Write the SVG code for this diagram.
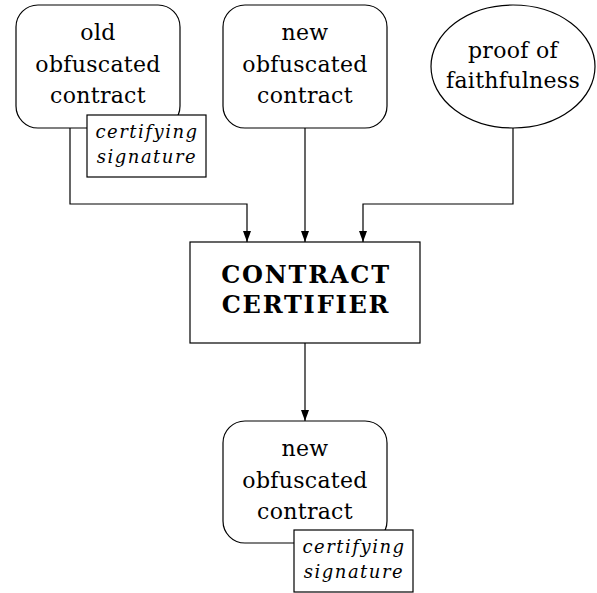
<svg xmlns="http://www.w3.org/2000/svg" width="597" height="593" viewBox="0 0 597 593">
<style>
.s{fill:#fff;stroke:#000;stroke-width:1.2}
.c{fill:none;stroke:#000;stroke-width:1.2}
text{font-family:'DejaVu Serif','Liberation Serif',serif;text-anchor:middle}
.t{font-size:22px;letter-spacing:0.3px}
.i{font-size:18px;font-style:italic;letter-spacing:1.5px}
.b{font-size:24px;font-weight:bold;letter-spacing:1.8px}
</style>
<defs>
<marker id="a" markerWidth="12" markerHeight="10" refX="11" refY="5" orient="auto" markerUnits="userSpaceOnUse">
<path d="M0,1 L11,5 L0,9 Z" fill="#000"/>
</marker>
</defs>
<g id="connectors">
<path class="c" d="M70,128 V204 H247 V242" marker-end="url(#a)"/>
<path class="c" d="M305,128 V242" marker-end="url(#a)"/>
<path class="c" d="M513,128 V204 H363 V242" marker-end="url(#a)"/>
<path class="c" d="M305,343 V421" marker-end="url(#a)"/>
</g>
<g id="old">
<rect class="s" x="16" y="5" width="164" height="123" rx="22"/>
<text class="t" x="98" y="40">old</text>
<text class="t" x="98" y="72">obfuscated</text>
<text class="t" x="98" y="103">contract</text>
</g>
<g id="sig1">
<rect class="s" x="87" y="115" width="119" height="62"/>
<text class="i" x="147" y="138">certifying</text>
<text class="i" x="147" y="163">signature</text>
</g>
<g id="new">
<rect class="s" x="223" y="5" width="164" height="123" rx="22"/>
<text class="t" x="305" y="40">new</text>
<text class="t" x="305" y="72">obfuscated</text>
<text class="t" x="305" y="103">contract</text>
</g>
<g id="proof">
<ellipse class="s" cx="513" cy="66.5" rx="82" ry="61.5"/>
<text class="t" x="513" y="58">proof of</text>
<text class="t" x="513" y="88">faithfulness</text>
</g>
<g id="certifier">
<rect class="s" x="190" y="242" width="230" height="101"/>
<text class="b" x="306" y="283">CONTRACT</text>
<text class="b" x="306" y="313">CERTIFIER</text>
</g>
<g id="newout">
<rect class="s" x="223" y="421" width="164" height="122" rx="22"/>
<text class="t" x="305" y="456">new</text>
<text class="t" x="305" y="488">obfuscated</text>
<text class="t" x="305" y="519">contract</text>
</g>
<g id="sig2">
<rect class="s" x="294" y="530" width="119" height="62"/>
<text class="i" x="354" y="553">certifying</text>
<text class="i" x="354" y="578">signature</text>
</g>
</svg>
